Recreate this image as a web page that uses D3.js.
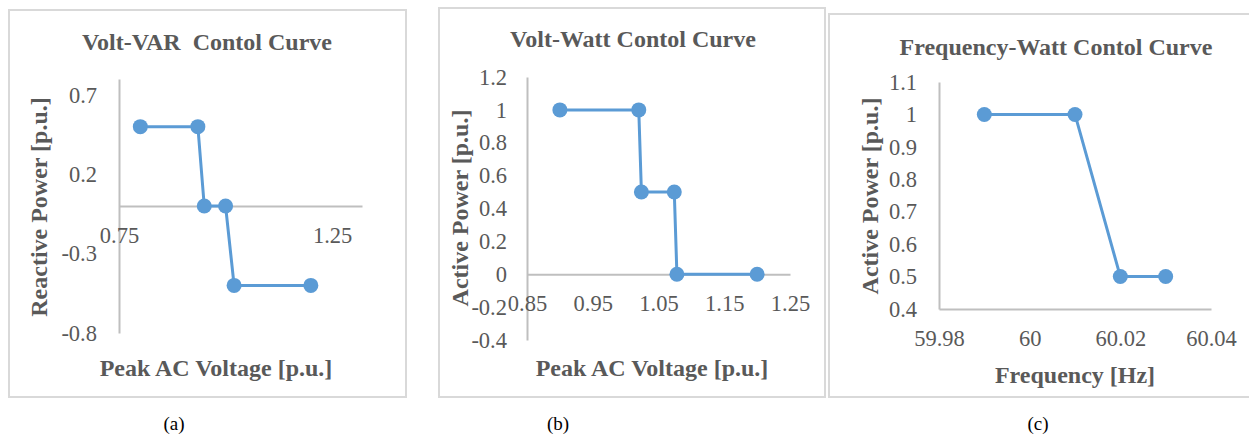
<!DOCTYPE html>
<html>
<head>
<meta charset="utf-8">
<script src="https://cdn.jsdelivr.net/npm/d3@7"></script>
<style>
  body { margin: 0; background: #fff; }
  svg { display: block; font-family: "Liberation Serif", "Times New Roman", serif; }
</style>
</head>
<body>
<div id="chart"></div>
<script>
// data
const voltVarX = [0.8, 0.935, 0.95, 1.0, 1.02, 1.2];
const voltVarY = [0.5, 0.5, 0, 0, -0.5, -0.5];
const voltVarXTicks = [0.75, 1.25];
const voltVarYTicks = [-0.8, -0.3, 0.2, 0.7];

const voltWattX = [0.9, 1.02, 1.024, 1.074, 1.078, 1.2];
const voltWattY = [1, 1, 0.5, 0.5, 0, 0];
const voltWattXTicks = [0.85, 0.95, 1.05, 1.15, 1.25];
const voltWattYTicks = [-0.4, -0.2, 0, 0.2, 0.4, 0.6, 0.8, 1, 1.2];

const freqWattX = [59.99, 60.01, 60.02, 60.03];
const freqWattY = [1, 1, 0.5, 0.5];
const freqWattXTicks = [59.98, 60, 60.02, 60.04];
const freqWattYTicks = [0.4, 0.5, 0.6, 0.7, 0.8, 0.9, 1, 1.1];

const width = 1249, height = 435;
const textColor = "#595959", axisColor = "#bfbfbf", lineColor = "#5b9bd5";

const svg = d3.select("#chart").append("svg")
  .attr("width", width)
  .attr("height", height);

// one Excel-like panel
function drawPanel(p) {
  const g = svg.append("g");

  // frame
  g.append("rect")
    .attr("x", p.box[0]).attr("y", p.box[1])
    .attr("width", p.box[2]).attr("height", p.box[3])
    .attr("fill", "none")
    .attr("stroke", "#d9d9d9")
    .attr("stroke-width", 2);

  const x = d3.scaleLinear().domain(p.xDomain).range(p.xRange);
  const y = d3.scaleLinear().domain(p.yDomain).range(p.yRange);

  // y axis
  const yAxis = g.append("g")
    .attr("transform", `translate(${p.xRange[0]},0)`)
    .call(d3.axisLeft(y).tickValues(p.yTicks).tickSize(0).tickPadding(p.yPad)
      .tickFormat(d => String(d)));

  // x axis, crossing at p.xCross
  const xAxis = g.append("g")
    .attr("transform", `translate(0,${y(p.xCross)})`)
    .call(d3.axisBottom(x).tickValues(p.xTicks).tickSize(0).tickPadding(21)
      .tickFormat(d => String(d)));

  [xAxis, yAxis].forEach(a => {
    a.select(".domain").attr("stroke", axisColor).attr("stroke-width", 2);
    a.selectAll("text")
      .attr("fill", textColor)
      .style("font-size", "22.5px")
      .style("font-family", "Liberation Serif, serif");
  });

  const pts = p.xs.map((v, i) => [v, p.ys[i]]);

  const line = d3.line().x(d => x(d[0])).y(d => y(d[1]));
  g.append("path")
    .datum(pts)
    .attr("fill", "none")
    .attr("stroke", lineColor)
    .attr("stroke-width", 3)
    .attr("d", line);

  g.selectAll(".dot")
    .data(pts)
    .enter()
    .append("circle")
    .attr("class", "dot")
    .attr("cx", d => x(d[0]))
    .attr("cy", d => y(d[1]))
    .attr("r", 7.5)
    .attr("fill", lineColor);

  // title
  g.append("text")
    .attr("x", p.title[1]).attr("y", p.title[2])
    .attr("dy", "0.35em")
    .attr("text-anchor", "middle")
    .attr("fill", textColor)
    .style("font-weight", "bold")
    .style("font-size", "24px")
    .style("white-space", "pre")
    .text(p.title[0]);

  // axis titles
  g.append("text")
    .attr("x", p.xTitle[1]).attr("y", p.xTitle[2])
    .attr("dy", "0.35em")
    .attr("text-anchor", "middle")
    .attr("fill", textColor)
    .style("font-weight", "bold")
    .style("font-size", "24px")
    .text(p.xTitle[0]);

  g.append("text")
    .attr("transform", `translate(${p.yTitle[1]},${p.yTitle[2]}) rotate(-90)`)
    .attr("dy", "0.35em")
    .attr("text-anchor", "middle")
    .attr("fill", textColor)
    .style("font-weight", "bold")
    .style("font-size", "24px")
    .text(p.yTitle[0]);

  // caption under the panel
  svg.append("text")
    .attr("x", p.caption[1]).attr("y", p.caption[2])
    .attr("dy", "0.35em")
    .attr("text-anchor", "middle")
    .attr("fill", "#000")
    .style("font-size", "19px")
    .text(p.caption[0]);
}

drawPanel({
  box: [9, 10, 397, 387],
  xs: voltVarX, ys: voltVarY,
  xDomain: [0.75, 1.32], xRange: [119, 362],
  yDomain: [-0.8, 0.8], yRange: [333, 79],
  xTicks: voltVarXTicks, yTicks: voltVarYTicks, xCross: 0, yPad: 22,
  title: ["Volt-VAR  Contol Curve", 207, 42],
  xTitle: ["Peak AC Voltage [p.u.]", 216, 368],
  yTitle: ["Reactive Power [p.u.]", 39, 207],
  caption: ["(a)", 174, 423]
});

drawPanel({
  box: [439, 8, 386, 389],
  xs: voltWattX, ys: voltWattY,
  xDomain: [0.85, 1.25], xRange: [527, 790],
  yDomain: [-0.4, 1.2], yRange: [340, 77],
  xTicks: voltWattXTicks, yTicks: voltWattYTicks, xCross: 0, yPad: 20,
  title: ["Volt-Watt Contol Curve", 633, 39],
  xTitle: ["Peak AC Voltage [p.u.]", 652, 368],
  yTitle: ["Active Power [p.u.]", 460, 208],
  caption: ["(b)", 558, 423]
});

drawPanel({
  box: [829, 14, 430, 383],
  xs: freqWattX, ys: freqWattY,
  xDomain: [59.98, 60.04], xRange: [939, 1211],
  yDomain: [0.4, 1.1], yRange: [309, 82],
  xTicks: freqWattXTicks, yTicks: freqWattYTicks, xCross: 0.4, yPad: 22,
  title: ["Frequency-Watt Contol Curve", 1056, 47],
  xTitle: ["Frequency [Hz]", 1075, 375],
  yTitle: ["Active Power [p.u.]", 870, 196],
  caption: ["(c)", 1038, 423]
});
</script>
</body>
</html>
